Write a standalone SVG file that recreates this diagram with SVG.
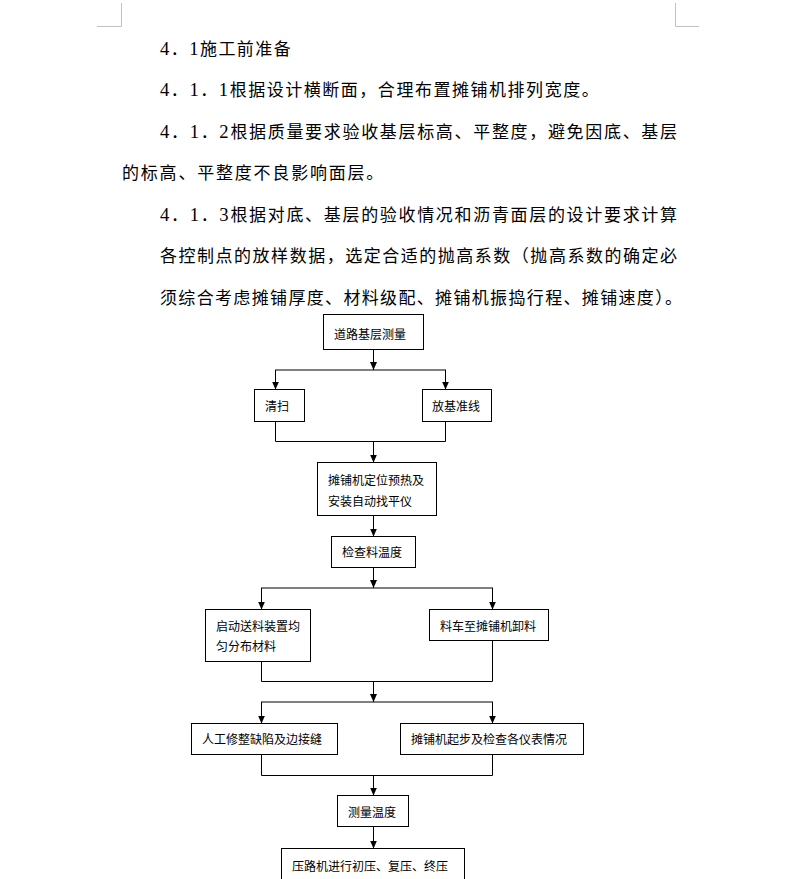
<svg xmlns="http://www.w3.org/2000/svg" width="796" height="879" viewBox="0 0 796 879">
<style>
.body{font-family:"Liberation Serif","Noto Sans CJK SC",serif;font-size:17px;fill:#000}
.n{font-size:18.67px}
.box rect{fill:#fff;stroke:#000;stroke-width:1}
.box text{font-family:"Noto Sans CJK SC",sans-serif;font-size:12px;fill:#000}
.mark{stroke:#c0c0c0;stroke-width:1;fill:none}
#connectors line,#connectors polyline{stroke:#000;stroke-width:1;fill:none}
</style>
<defs>
<marker id="ah" viewBox="0 0 8 8" refX="8" refY="4" markerWidth="8" markerHeight="8" markerUnits="userSpaceOnUse" orient="auto">
<path d="M0,0.5 L8,4 L0,7.5 z" fill="#000"/>
</marker>
</defs>
<rect width="796" height="879" fill="#fff"/>
<g id="page-marks">
<polyline class="mark" points="121.5,3 121.5,26.5 97,26.5"/>
<polyline class="mark" points="675.5,3 675.5,26.5 699,26.5"/>
</g>
<g id="paragraphs">
<text class="body" x="160" y="55" textLength="130.7" lengthAdjust="spacing"><tspan class="n">4</tspan>．<tspan class="n">1</tspan>施工前准备</text>
<text class="body" x="160" y="96" textLength="438.7" lengthAdjust="spacing"><tspan class="n">4</tspan>．<tspan class="n">1</tspan>．<tspan class="n">1</tspan>根据设计横断面，合理布置摊铺机排列宽度。</text>
<text class="body" x="160" y="137.5" textLength="517" lengthAdjust="spacing"><tspan class="n">4</tspan>．<tspan class="n">1</tspan>．<tspan class="n">2</tspan>根据质量要求验收基层标高、平整度，避免因底、基层</text>
<text class="body" x="122" y="179" textLength="261.3" lengthAdjust="spacing">的标高、平整度不良影响面层。</text>
<text class="body" x="160" y="220.5" textLength="517" lengthAdjust="spacing"><tspan class="n">4</tspan>．<tspan class="n">1</tspan>．<tspan class="n">3</tspan>根据对底、基层的验收情况和沥青面层的设计要求计算</text>
<text class="body" x="160" y="262" textLength="517" lengthAdjust="spacing">各控制点的放样数据，选定合适的抛高系数（抛高系数的确定必</text>
<text class="body" x="160" y="303.5" textLength="522" lengthAdjust="spacing">须综合考虑摊铺厚度、材料级配、摊铺机振捣行程、摊铺速度）。</text>
</g>
<g id="connectors">
<line x1="373.5" y1="349.5" x2="373.5" y2="370" marker-end="url(#ah)"/>
<line x1="275" y1="370" x2="446" y2="370"/>
<line x1="275.5" y1="370" x2="275.5" y2="389.5" marker-end="url(#ah)"/>
<line x1="445.5" y1="370" x2="445.5" y2="389.5" marker-end="url(#ah)"/>
<polyline points="275.5,421.5 275.5,441.5 445.5,441.5 445.5,421.5"/>
<line x1="373.5" y1="441.5" x2="373.5" y2="462.5" marker-end="url(#ah)"/>
<line x1="373.5" y1="515.5" x2="373.5" y2="536.5" marker-end="url(#ah)"/>
<line x1="373.5" y1="567.5" x2="373.5" y2="588" marker-end="url(#ah)"/>
<line x1="261" y1="588" x2="493" y2="588"/>
<line x1="261.5" y1="588" x2="261.5" y2="609.5" marker-end="url(#ah)"/>
<line x1="492.5" y1="588" x2="492.5" y2="609.5" marker-end="url(#ah)"/>
<polyline points="261.5,661.5 261.5,681.5 492.5,681.5 492.5,640.5"/>
<line x1="373.5" y1="681.5" x2="373.5" y2="702" marker-end="url(#ah)"/>
<line x1="261" y1="702" x2="493" y2="702"/>
<line x1="261.5" y1="702" x2="261.5" y2="723.5" marker-end="url(#ah)"/>
<line x1="492.5" y1="702" x2="492.5" y2="723.5" marker-end="url(#ah)"/>
<polyline points="261.5,754.5 261.5,775.5 492.5,775.5 492.5,754.5"/>
<line x1="373.5" y1="775.5" x2="373.5" y2="795.5" marker-end="url(#ah)"/>
<line x1="373.5" y1="826.5" x2="373.5" y2="848.5" marker-end="url(#ah)"/>
</g>
<g id="n1" class="box"><rect x="323.5" y="314.5" width="100" height="35"/><text x="334" y="338.5">道路基层测量</text></g>
<g id="n2" class="box"><rect x="254.5" y="389.5" width="50" height="32"/><text x="265" y="410.5">清扫</text></g>
<g id="n3" class="box"><rect x="422.5" y="389.5" width="69" height="32"/><text x="432" y="410.5">放基准线</text></g>
<g id="n4" class="box"><rect x="317.5" y="462.5" width="119" height="53"/><text x="328" y="484.5">摊铺机定位预热及</text><text x="328" y="505.5">安装自动找平仪</text></g>
<g id="n5" class="box"><rect x="331.5" y="536.5" width="84" height="31"/><text x="342" y="557">检查料温度</text></g>
<g id="n6" class="box"><rect x="205.5" y="609.5" width="105" height="52"/><text x="216" y="630.5">启动送料装置均</text><text x="216" y="650.5">匀分布材料</text></g>
<g id="n7" class="box"><rect x="429.5" y="609.5" width="119" height="31"/><text x="440" y="630.5">料车至摊铺机卸料</text></g>
<g id="n8" class="box"><rect x="191.5" y="723.5" width="146" height="31"/><text x="202" y="744">人工修整缺陷及边接缝</text></g>
<g id="n9" class="box"><rect x="400.5" y="723.5" width="183" height="31"/><text x="411" y="744">摊铺机起步及检查各仪表情况</text></g>
<g id="n10" class="box"><rect x="337.5" y="795.5" width="71" height="31"/><text x="348" y="817">测量温度</text></g>
<g id="n11" class="box"><rect x="281.5" y="848.5" width="183" height="50"/><text x="292" y="870.5">压路机进行初压、复压、终压</text></g>
</svg>
